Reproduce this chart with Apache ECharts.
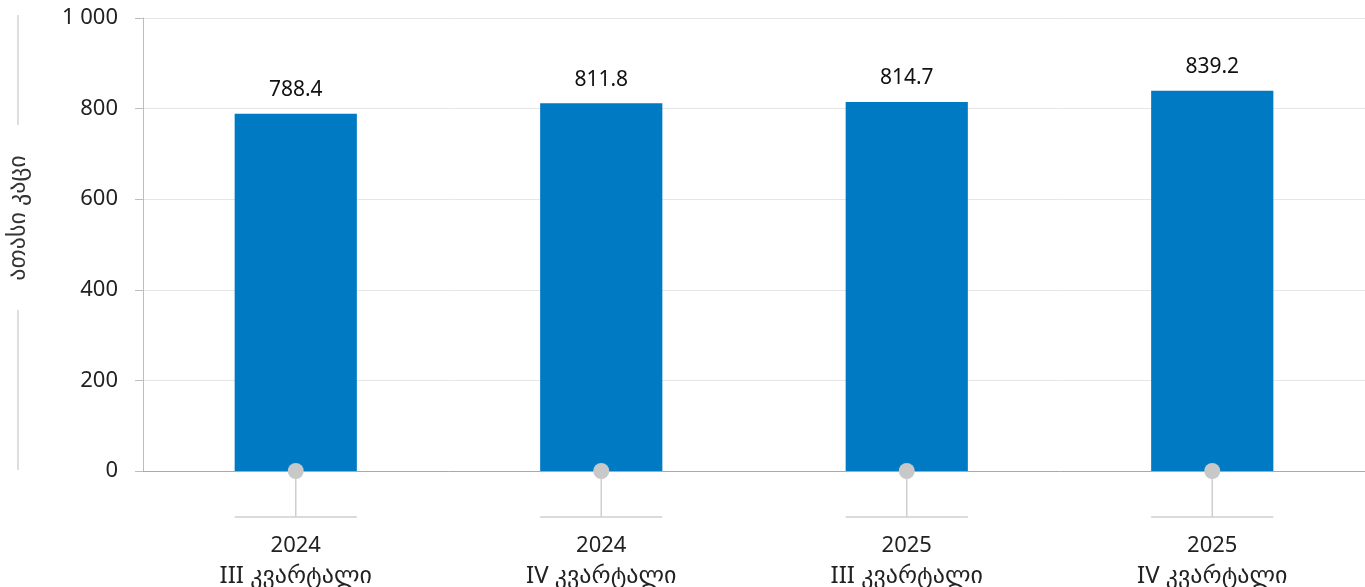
<!DOCTYPE html>
<html>
<head>
<meta charset="utf-8">
<script src="https://cdn.jsdelivr.net/npm/echarts@6/dist/echarts.min.js"></script>
<style>
  html, body { margin: 0; padding: 0; background: #fff; }
  #chart { width: 1365px; height: 587px; }
</style>
</head>
<body>
<div id="chart"></div>
<script>
// Datos de la gráfica
const categories = ["2024\nIII კვარტალი", "2024\nIV კვარტალი", "2025\nIII კვარტალი", "2025\nIV კვარტალი"];
const values = [788.4, 811.8, 814.7, 839.2];
const yAxisName = "ათასი კაცი";

const FONT = "'Noto Sans', 'DejaVu Sans', sans-serif";

const chart = echarts.init(document.getElementById("chart"));

const option = {
  animation: false,
  textStyle: { fontFamily: FONT },
  grid: { left: 143, right: 0, top: 18, bottom: 116, containLabel: false, outerBoundsMode: "none" },
  xAxis: {
    type: "category",
    data: categories,
    axisLine: { lineStyle: { color: "#a9a9a9", width: 1 } },
    axisTick: { show: false },
    axisLabel: {
      margin: 60,
      color: "#222",
      fontFamily: FONT,
      interval: 0,
      formatter: function (v) {
        const parts = v.split("\n");
        return "{y|" + parts[0] + "}\n{q|" + parts[1] + "}";
      },
      rich: {
        y: { fontSize: 22, lineHeight: 30, color: "#222", fontFamily: FONT },
        q: { fontSize: 24, lineHeight: 30, color: "#222", fontFamily: FONT },
      },
    },
  },
  yAxis: {
    type: "value",
    min: 0,
    max: 1000,
    interval: 200,
    axisLine: { show: true, lineStyle: { color: "#bdbdbd" } },
    axisTick: { show: true, length: 8, lineStyle: { color: "#bdbdbd" } },
    splitLine: { lineStyle: { color: "#e6e6e6" } },
    axisLabel: {
      margin: 25,
      fontSize: 22,
      color: "#222",
      fontFamily: FONT,
      formatter: function (v) {
        return String(v).replace(/\B(?=(\d{3})+(?!\d))/g, " ");
      },
    },
  },
  graphic: [
    { type: "line", shape: { x1: 18, y1: 15, x2: 18, y2: 125 }, style: { stroke: "#bdbdbd", lineWidth: 1 } },
    { type: "line", shape: { x1: 18, y1: 310, x2: 18, y2: 470 }, style: { stroke: "#bdbdbd", lineWidth: 1 } },
    {
      type: "text",
      x: 18,
      y: 218,
      rotation: Math.PI / 2,
      style: {
        text: yAxisName,
        fontSize: 24,
        fill: "#333",
        fontFamily: FONT,
        align: "center",
        verticalAlign: "middle",
      },
    },
  ],
  series: [
    {
      type: "bar",
      data: values,
      barWidth: "40%",
      itemStyle: { color: "#007AC3" },
      label: {
        show: true,
        position: "top",
        distance: 13,
        fontSize: 21,
        color: "#111",
        fontFamily: FONT,
        formatter: (p) => p.value.toFixed(1),
      },
      z: 2,
    },
    {
      // Marcadores bajo el eje: círculo, tallo y línea horizontal
      type: "custom",
      data: values.map((v, i) => [i, 0]),
      clip: false,
      silent: true,
      z: 5,
      renderItem: function (params, api) {
        const p = api.coord([api.value(0), 0]);
        const w = api.size([1, 0])[0] * 0.4;
        const stem = 46;
        return {
          type: "group",
          children: [
            {
              type: "line",
              shape: { x1: p[0], y1: p[1], x2: p[0], y2: p[1] + stem },
              style: { stroke: "#cfcfcf", lineWidth: 1.5 },
            },
            {
              type: "line",
              shape: { x1: p[0] - w / 2, y1: p[1] + stem, x2: p[0] + w / 2, y2: p[1] + stem },
              style: { stroke: "#cfcfcf", lineWidth: 1.5 },
            },
            {
              type: "circle",
              shape: { cx: p[0], cy: p[1], r: 8 },
              style: { fill: "#c8c8c8" },
            },
          ],
        };
      },
    },
  ],
};

chart.setOption(option);
window.addEventListener("resize", function () {
  chart.resize();
});
</script>
</body>
</html>
